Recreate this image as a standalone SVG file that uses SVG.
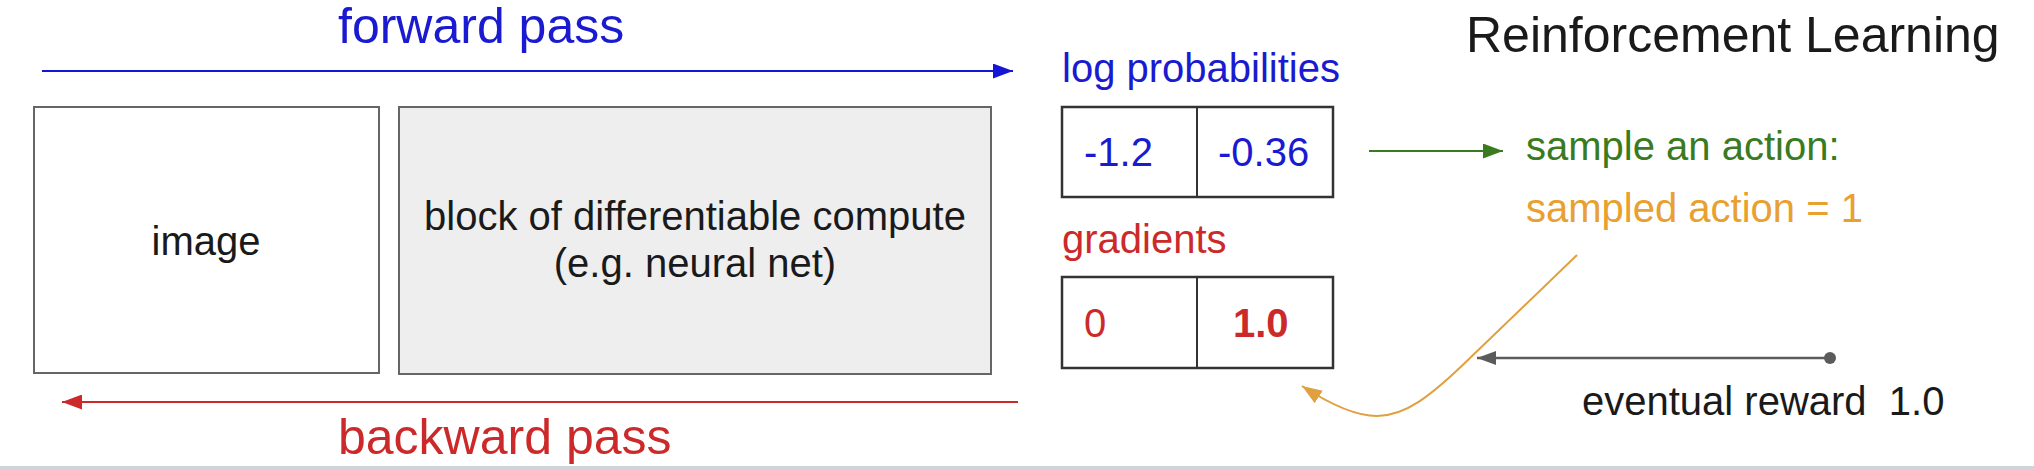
<svg xmlns="http://www.w3.org/2000/svg" width="2034" height="470" viewBox="0 0 2034 470">
<style>
text{font-family:"Liberation Sans",Arial,sans-serif;}
.big{font-size:50px;}
.mid{font-size:40px;}
.blue{fill:#1a1ad0;}
.red{fill:#cc2a2a;}
.green{fill:#3a7a20;}
.orange{fill:#e8a030;}
.dark{fill:#1a1a1a;}
.box{stroke:#666;stroke-width:2;}
.cell{fill:#fff;stroke:#333;stroke-width:2.5;}
</style>
<defs>
<marker id="hBlue" markerUnits="userSpaceOnUse" viewBox="0 0 20 15" markerWidth="20" markerHeight="15" refX="20" refY="7.5" orient="auto"><path d="M0,0 L20,7.5 L0,15 z" fill="#1515d5"/></marker>
<marker id="hRed" markerUnits="userSpaceOnUse" viewBox="0 0 20 15" markerWidth="20" markerHeight="15" refX="20" refY="7.5" orient="auto"><path d="M0,0 L20,7.5 L0,15 z" fill="#cc2a2a"/></marker>
<marker id="hGreen" markerUnits="userSpaceOnUse" viewBox="0 0 20 15" markerWidth="20" markerHeight="15" refX="20" refY="7.5" orient="auto"><path d="M0,0 L20,7.5 L0,15 z" fill="#3a7a20"/></marker>
<marker id="hGray" markerUnits="userSpaceOnUse" viewBox="0 0 19 14" markerWidth="19" markerHeight="14" refX="19" refY="7" orient="auto"><path d="M0,0 L19,7 L0,14 z" fill="#5b5b5b"/></marker>
<marker id="hOrange" markerUnits="userSpaceOnUse" viewBox="0 0 20 15" markerWidth="20" markerHeight="15" refX="20" refY="7.5" orient="auto"><path d="M0,0 L20,7.5 L0,15 z" fill="#e0a040"/></marker>
</defs>
<rect width="2034" height="470" fill="#fff"/>
<rect x="0" y="466" width="2034" height="4" fill="#cfd3da"/>

<g id="labels">
<text class="big blue" x="338" y="43">forward pass</text>
<text class="big red" x="338" y="454">backward pass</text>
<text class="big dark" x="1466" y="52">Reinforcement Learning</text>
</g>

<g id="image">
<rect class="box" x="34" y="107" width="345" height="266" fill="#fff"/>
<text class="mid dark" x="206" y="255" text-anchor="middle">image</text>
</g>

<g id="compute">
<rect class="box" x="399" y="107" width="592" height="267" fill="#eeeeee"/>
<text class="mid dark" x="695" y="230" text-anchor="middle">block of differentiable compute</text>
<text class="mid dark" x="695" y="277" text-anchor="middle">(e.g. neural net)</text>
</g>

<g id="logprobs">
<text class="mid blue" x="1062" y="82">log probabilities</text>
<rect class="cell" x="1062" y="107" width="271" height="90"/>
<line x1="1197" y1="107" x2="1197" y2="197" stroke="#333" stroke-width="2"/>
<text class="mid blue" x="1084" y="166">-1.2</text>
<text class="mid blue" x="1218" y="166">-0.36</text>
</g>

<g id="gradients">
<text class="mid red" x="1062" y="253">gradients</text>
<rect class="cell" x="1062" y="277" width="271" height="91"/>
<line x1="1197" y1="277" x2="1197" y2="368" stroke="#333" stroke-width="2"/>
<text class="mid red" x="1084" y="337">0</text>
<text class="mid red" x="1233" y="337" font-weight="bold">1.0</text>
</g>

<g id="sample">
<text class="mid green" x="1526" y="160">sample an action:</text>
<text class="mid orange" x="1526" y="222">sampled action = 1</text>
</g>

<g id="reward">
<circle cx="1830" cy="358" r="6" fill="#5b5b5b"/>
<text class="mid dark" x="1582" y="415" xml:space="preserve">eventual reward  1.0</text>
</g>

<g id="connectors" fill="none">
<line x1="42" y1="71" x2="1013" y2="71" stroke="#1515d5" stroke-width="2" marker-end="url(#hBlue)"/>
<line x1="1018" y1="402" x2="62" y2="402" stroke="#cc2a2a" stroke-width="2" marker-end="url(#hRed)"/>
<line x1="1369" y1="151" x2="1503" y2="151" stroke="#3a7a20" stroke-width="2" marker-end="url(#hGreen)"/>
<line x1="1830" y1="358" x2="1477" y2="358" stroke="#5b5b5b" stroke-width="2.5" marker-end="url(#hGray)"/>
<path d="M1577,255 L1470,358 C1430,397 1405,416 1377,416 C1352,416 1325,401 1302,386" stroke="#e0a040" stroke-width="2" marker-end="url(#hOrange)"/>
</g>
</svg>
